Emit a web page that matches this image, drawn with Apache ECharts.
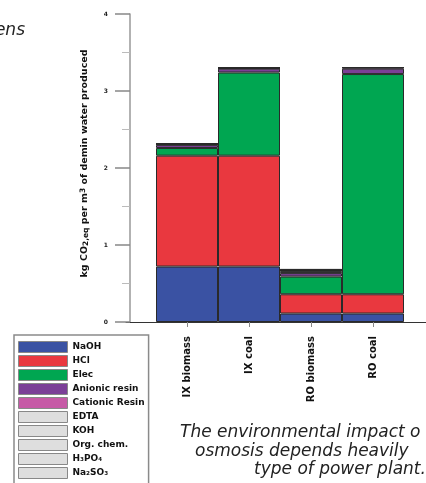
<!DOCTYPE html>
<html><head><meta charset="utf-8">
<script src="https://cdn.jsdelivr.net/npm/echarts@6/dist/echarts.min.js"></script>
<style>html,body{margin:0;padding:0;background:#fff}#c{width:426px;height:483px}</style>
</head><body><div id="c"></div>
<script>
const categories = ['IX biomass', 'IX coal', 'RO biomass', 'RO coal'];
const naoh     = [0.72, 0.72, 0.11, 0.11];
const hcl      = [1.44, 1.44, 0.25, 0.25];
const elec     = [0.10, 1.08, 0.23, 2.86];
const anionic  = [0.04, 0.05, 0.045, 0.07];
const cationic = [0.01, 0.01, 0.02, 0.015];
const edta     = [0, 0, 0.01, 0];
const koh      = [0, 0, 0.005, 0];
const orgChem  = [0, 0, 0.005, 0];
const h3po4    = [0, 0, 0.005, 0];
const na2so3   = [0, 0, 0.005, 0];
const seriesNames = ['NaOH', 'HCl', 'Elec', 'Anionic resin', 'Cationic Resin', 'EDTA', 'KOH', 'Org. chem.', 'H\u2083PO\u2084', 'Na\u2082SO\u2083'];
const seriesData = [naoh, hcl, elec, anionic, cationic, edta, koh, orgChem, h3po4, na2so3];
const seriesColors = ['#3a52a3', '#e9383f', '#00a651', '#7b3f97', '#c65aa6', '#dedede', '#dedede', '#dedede', '#dedede', '#dedede'];
const yTickLabels = ['0', '1', '2', '3', '4'];
const captionLines = ['The environmental impact o', 'osmosis depends heavily', 'type of power plant.'];
const captionPrev = 'ens';

const chart = echarts.init(document.getElementById('c'), null, {renderer: 'canvas'});
const capFont = 'italic 17px "DejaVu Sans"';
const boldFam = 'DejaVu Sans';
const option = {
  animation: false,
  backgroundColor: '#fff',
  grid: [
    {left: 156, right: 22, top: 14, bottom: 161},
    {left: 126, right: 0, top: 14, bottom: 161}
  ],
  legend: {
    data: seriesNames,
    orient: 'vertical',
    left: 14, top: 335, height: 260,
    icon: 'rect',
    itemWidth: 49, itemHeight: 11, itemGap: 2,
    selectedMode: false,
    itemStyle: {borderColor: '#888', borderWidth: 1},
    textStyle: {fontSize: 9, lineHeight: 11, fontWeight: 'bold', color: '#111', fontFamily: boldFam},
    borderColor: '#8a8a8a', borderWidth: 1.5,
    padding: [6, 4, 40, 4]
  },
  xAxis: [
    {
      type: 'category', gridIndex: 0, data: categories,
      axisLine: {show: false},
      axisTick: {show: true, alignWithLabel: true, length: 5, lineStyle: {color: '#888', width: 1}},
      axisLabel: {rotate: 90, margin: 14, fontSize: 10, fontWeight: 'bold', color: '#111', fontFamily: boldFam},
      splitLine: {show: false}
    },
    {
      type: 'value', gridIndex: 1, min: 0, max: 1,
      axisLine: {show: true, onZero: false, lineStyle: {color: '#333', width: 1}},
      axisTick: {show: false}, axisLabel: {show: false}, splitLine: {show: false}
    }
  ],
  yAxis: [
    {
      type: 'value', gridIndex: 0, min: 0, max: 4, interval: 1, offset: 26,
      axisLine: {show: true, lineStyle: {color: '#999', width: 1.5}},
      axisTick: {show: true, length: 15, lineStyle: {color: '#888', width: 1.5}},
      minorTick: {show: true, splitNumber: 2, length: 8, lineStyle: {color: '#bbb', width: 1}},
      axisLabel: {margin: 22, fontSize: 6, fontWeight: 'bold', color: '#222', fontFamily: boldFam,
        formatter: (v) => yTickLabels[Math.round(v)]},
      splitLine: {show: false},
      name: '{b|kg CO}{s|2,eq}{b| per m}{p|3}{b| of demin water produced}',
      nameLocation: 'middle', nameRotate: 90, nameGap: 40,
      nameTextStyle: {
        padding: [0, 0, 0, 9],
        rich: {
          b: {fontSize: 9.5, fontWeight: 'bold', color: '#111', fontFamily: boldFam},
          s: {fontSize: 7.5, fontWeight: 'bold', color: '#111', fontFamily: boldFam, verticalAlign: 'bottom', padding: [3, 0, 0, 0]},
          p: {fontSize: 7.5, fontWeight: 'bold', color: '#111', fontFamily: boldFam, verticalAlign: 'top', padding: [0, 0, 3, 0]}
        }
      }
    },
    {type: 'value', gridIndex: 1, show: false}
  ],
  series: seriesNames.map((n, i) => ({
    name: n, type: 'bar', stack: 'total', xAxisIndex: 0, yAxisIndex: 0,
    data: seriesData[i], barWidth: '100%', barCategoryGap: '0%',
    itemStyle: {color: seriesColors[i], borderColor: '#2a2a2a', borderWidth: 1}
  })),
  graphic: [
    {type: 'text', x: 25, y: 31, style: {text: captionPrev, font: capFont, fill: '#222', align: 'right', verticalAlign: 'middle'}},
    {type: 'text', x: 180, y: 433, style: {text: captionLines[0], font: capFont, fill: '#222', align: 'left', verticalAlign: 'middle'}},
    {type: 'text', x: 195, y: 452, style: {text: captionLines[1], font: capFont, fill: '#222', align: 'left', verticalAlign: 'middle'}},
    {type: 'text', x: 254, y: 470, style: {text: captionLines[2], font: capFont, fill: '#222', align: 'left', verticalAlign: 'middle'}}
  ]
};
chart.setOption(option);
</script>
</body></html>
